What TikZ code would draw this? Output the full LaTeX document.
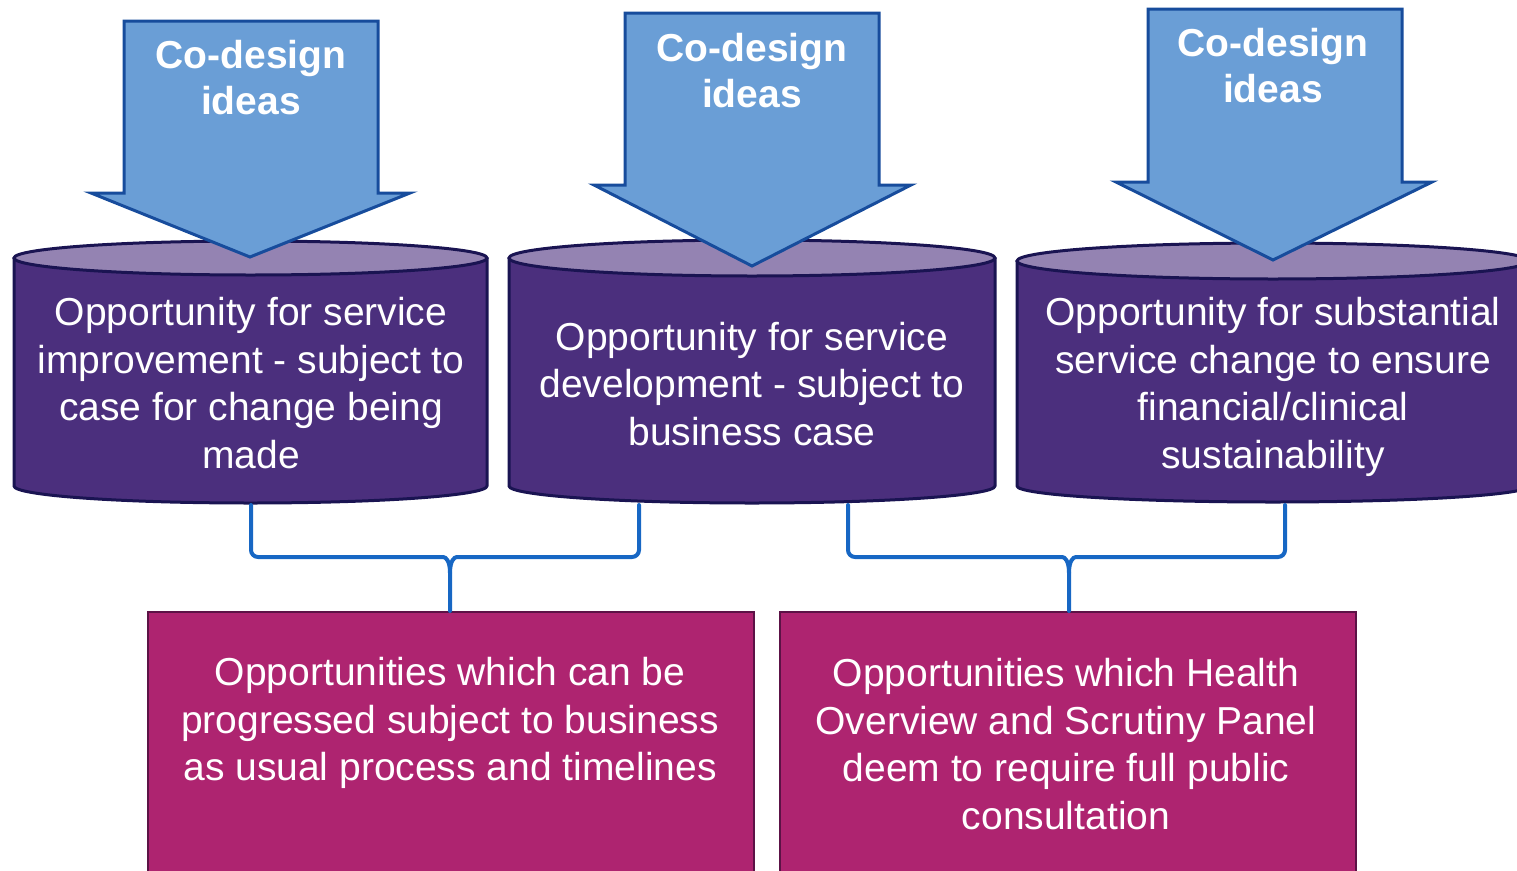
\documentclass[tikz,border=0pt]{standalone}
\usepackage{fontspec}
\setmainfont{Liberation Sans}
\usetikzlibrary{calc}
\definecolor{arrowfill}{HTML}{6A9ED6}
\definecolor{arrowline}{HTML}{174C9C}
\definecolor{cylbody}{HTML}{4B2F7D}
\definecolor{cyltop}{HTML}{9483B2}
\definecolor{cylline}{HTML}{1A1452}
\definecolor{boxfill}{HTML}{AE2470}
\definecolor{boxline}{HTML}{5C1246}
\definecolor{brkcol}{HTML}{1767C4}
\tikzset{
  cylshape/.style={fill=cylbody, draw=cylline, line width=3pt, line join=round},
  cyltopshape/.style={fill=cyltop, draw=cylline, line width=3pt},
  bigarrow/.style={fill=arrowfill, draw=arrowline, line width=3pt, line join=miter},
  arrowtext/.style={text=white, font=\bfseries\fontsize{39}{46}\selectfont, align=center, inner sep=0pt},
  cyltext/.style={text=white, font=\fontsize{39}{47.5}\selectfont, align=center, inner sep=0pt},
  boxshape/.style={fill=boxfill, draw=boxline, line width=2pt, inner sep=0pt, anchor=north west},
  boxtext/.style={text=white, font=\fontsize{39}{47.5}\selectfont, align=center, inner sep=0pt},
  brk/.style={draw=brkcol, line width=4pt, line cap=round}
}
\newcommand{\cylinderdraw}[6]{% L R yt ytop-ry yb bottom-ry
  \pgfmathsetmacro{\cx}{(#1+#2)/2}
  \pgfmathsetmacro{\rx}{(#2-#1)/2}
  \pgfmathsetmacro{\kx}{0.5523*\rx}
  \pgfmathsetmacro{\ky}{0.5523*#6}
  \draw[cylshape] (#1,#3) -- (#1,#5)
    .. controls (#1,#5+\ky) and (\cx-\kx,#5+#6) .. (\cx,#5+#6)
    .. controls (\cx+\kx,#5+#6) and (#2,#5+\ky) .. (#2,#5)
    -- (#2,#3) -- cycle;
  \draw[cyltopshape] (\cx,#3) ellipse [x radius=\rx, y radius=#4];
}
\newcommand{\bigarrowdraw}[8]{% shaftL shaftR top headY headL headR tipX tipY
  \draw[bigarrow] (#1,#3) -- (#2,#3) -- (#2,#4) -- (#6,#4) -- (#7,#8) -- (#5,#4) -- (#1,#4) -- cycle;
}
\begin{document}
\begin{tikzpicture}[x=1pt,y=-1pt]
\useasboundingbox (0,0) rectangle (1517,870);
\clip (0,0) rectangle (1517,870);

% cylinders
\cylinderdraw{14}{487}{258}{17}{486}{17}
\cylinderdraw{509}{995}{258}{18}{486}{17}
\cylinderdraw{1017}{1529}{261}{18}{486}{16}

% arrows
\bigarrowdraw{124}{378}{21}{193}{91}{410}{250}{257}
\bigarrowdraw{625}{879}{13}{185}{594}{911}{752}{266}
\bigarrowdraw{1148}{1402}{9}{182}{1116}{1432}{1273}{260}

\node[arrowtext] (a1) at (251,78) {Co-design\\ideas};
\node[arrowtext] (a2) at (752,71) {Co-design\\ideas};
\node[arrowtext] (a3) at (1273,66) {Co-design\\ideas};

% cylinder texts
\node[cyltext] (t1) at (251,383) {Opportunity for service\\improvement - subject to\\case for change being\\made};
\node[cyltext] (t2) at (752,384) {Opportunity for service\\development - subject to\\business case};
\node[cyltext] (t3) at (1273,387) {Opportunity for substantial\\service change to ensure\\financial/clinical\\sustainability};

% bottom boxes
\node[boxshape, minimum width=606, minimum height=270] (b1) at (147,611) {};
\node[boxshape, minimum width=576, minimum height=270] (b2) at (779,611) {};
\node[boxtext] (bt1) at (450,723) {Opportunities which can be\\progressed subject to business\\as usual process and timelines};
\node[boxtext] (bt2) at (1066,744) {Opportunities which Health\\Overview and Scrutiny Panel\\deem to require full public\\consultation};

% connector coordinates
\coordinate (c1b) at (251,505);
\coordinate (c2b) at (639,505);
\coordinate (c3b) at (848,505);
\coordinate (c4b) at (1285,505);
\coordinate (j1) at (450,557);
\coordinate (j2) at (1069,557);

% brackets
\draw[brk, rounded corners=7] (c1b) |- ($(j1)+(-14,0)$) [sharp corners]
  .. controls ($(j1)+(-4,0)$) and ($(j1)+(0,4)$) .. ($(j1)+(0,16)$) -- (b1.north -| j1);
\draw[brk, rounded corners=7] (c2b) |- ($(j1)+(14,0)$) [sharp corners]
  .. controls ($(j1)+(4,0)$) and ($(j1)+(0,4)$) .. ($(j1)+(0,16)$);
\draw[brk, rounded corners=7] (c3b) |- ($(j2)+(-14,0)$) [sharp corners]
  .. controls ($(j2)+(-4,0)$) and ($(j2)+(0,4)$) .. ($(j2)+(0,16)$) -- (b2.north -| j2);
\draw[brk, rounded corners=7] (c4b) |- ($(j2)+(14,0)$) [sharp corners]
  .. controls ($(j2)+(4,0)$) and ($(j2)+(0,4)$) .. ($(j2)+(0,16)$);
\end{tikzpicture}
\end{document}
